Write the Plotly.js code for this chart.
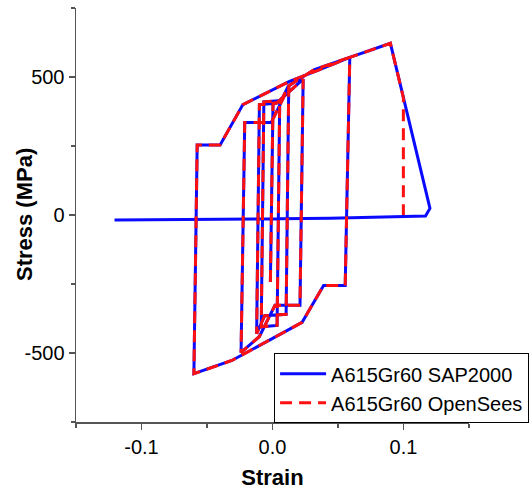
<!DOCTYPE html>
<html>
<head>
<meta charset="utf-8">
<script src="https://cdn.plot.ly/plotly-3.0.1.min.js"></script>
<style>
  html, body { margin: 0; padding: 0; background: #fff; }
  #chart { width: 529px; height: 490px; }
</style>
</head>
<body>
<div id="chart"></div>
<script>
// Cyclic part shared by both models (strain, stress in MPa)
var cyclicStrain = [
  -0.0016, 0.0004, 0.0055, 0.0035, -0.0086, -0.0066, 0.0067, 0.0124,
  0.0104, -0.0060, -0.0121, -0.0100, 0.0030, 0.0234, 0.0210, 0.0019,
  -0.0100, -0.0240, -0.0212, -0.0010, 0.0130, 0.0320, 0.0590, 0.0555,
  0.0390, 0.0226, -0.0310, -0.0600, -0.0575, -0.0400, -0.0226, 0.0130,
  0.0360, 0.0590, 0.0900
];
var cyclicStress = [
  -243, 405, 410, -400, -405, 410, 415, 470,
  -360, -365, -430, 400, 405, 492, -327, -327,
  -440, -498, 335, 335, 470, 527, 571, -255,
  -255, -389, -527, -575, 254, 254, 400, 484,
  527, 571, 622
];
// Post-peak behaviour
var sapTailStrain = [0.1202, 0.1168, 0.0440, -0.1206];
var sapTailStress = [24, -4, -12, -18];
var osTailStrain = [0.0999, 0.0999];
var osTailStress = [425, 0];

var seriesNames = ['A615Gr60 SAP2000', 'A615Gr60 OpenSees'];
var xTickVals = [-0.1, 0, 0.1];
var xTickText = ['-0.1', '0.0', '0.1'];
var yTickVals = [-500, 0, 500];
var yTickText = ['-500', '0', '500'];

var sap = {
  x: cyclicStrain.concat(sapTailStrain),
  y: cyclicStress.concat(sapTailStress),
  mode: 'lines', name: seriesNames[0],
  line: { color: '#0a0aff', width: 3 }
};
var os = {
  x: cyclicStrain.concat(osTailStrain),
  y: cyclicStress.concat(osTailStress),
  mode: 'lines', name: seriesNames[1],
  line: { color: '#ff1010', width: 3, dash: '12px,7px' }
};

var FONT = 'Liberation Sans, Arial, sans-serif';
var axisCommon = {
  showgrid: false, zeroline: false, showline: true,
  linecolor: '#555', linewidth: 1.5,
  ticks: 'outside', ticklen: 6, tickwidth: 1.5, tickcolor: '#555',
  tickfont: { family: FONT, size: 20, color: '#000' },
  mirror: false
};

var layout = {
  width: 529, height: 490,
  margin: { l: 76, r: 60, t: 8, b: 68, autoexpand: false },
  paper_bgcolor: '#fff', plot_bgcolor: '#fff',
  showlegend: true,
  xaxis: Object.assign({}, axisCommon, {
    range: [-0.15, 0.15],
    tickvals: xTickVals, ticktext: xTickText,
    minor: { dtick: 0.05, tick0: 0, ticks: 'outside', ticklen: 4, tickcolor: '#555', tickwidth: 1.5 },
    title: { text: '<b>Strain</b>', standoff: 14,
      font: { family: FONT, size: 22, color: '#000' } }
  }),
  yaxis: Object.assign({}, axisCommon, {
    range: [-750, 750],
    tickvals: yTickVals, ticktext: yTickText,
    minor: { dtick: 250, tick0: 0, ticks: 'outside', ticklen: 4, tickcolor: '#555', tickwidth: 1.5 }
  }),
  annotations: [{
    text: '<b>Stress (MPa)</b>', xref: 'paper', yref: 'paper',
    x: -0.1323, y: 0.5, xanchor: 'center', yanchor: 'middle',
    textangle: -90, showarrow: false,
    font: { family: FONT, size: 22, color: '#000' }
  }],
  legend: {
    x: 0.504, y: 0.166, xanchor: 'left', yanchor: 'top',
    bgcolor: '#fff', bordercolor: '#000', borderwidth: 1,
    itemwidth: 46,
    font: { family: FONT, size: 20, color: '#000' },
    tracegroupgap: 0
  }
};

Plotly.newPlot('chart', [sap, os], layout, { displayModeBar: false, staticPlot: true });
</script>
</body>
</html>
